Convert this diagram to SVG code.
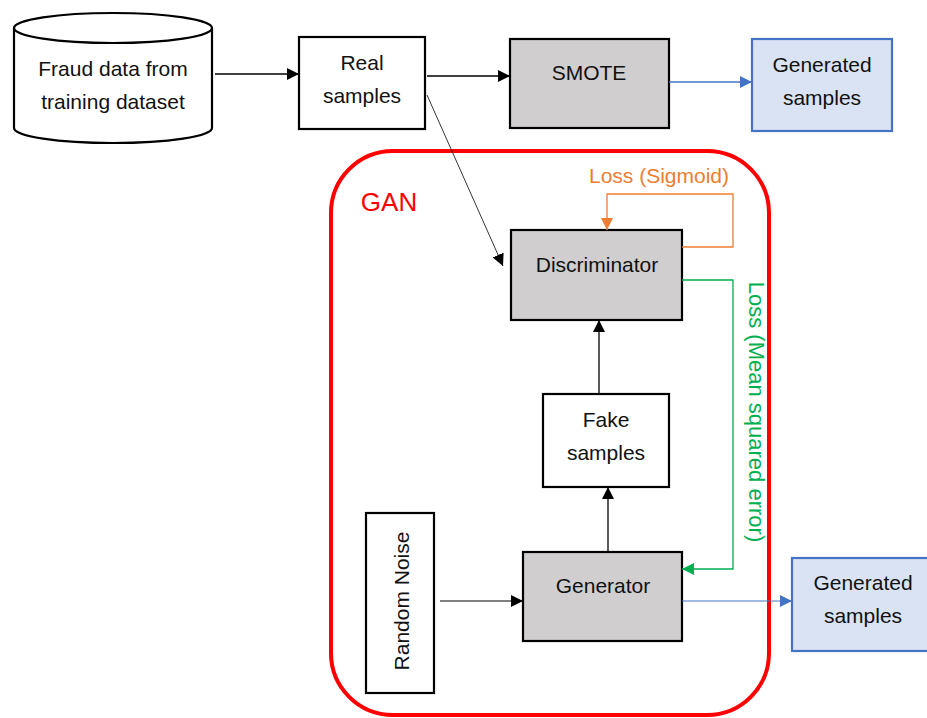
<svg xmlns="http://www.w3.org/2000/svg" width="927" height="718" viewBox="0 0 927 718">
<style>
text{font-family:"Liberation Sans",Arial,sans-serif;font-size:21px;fill:#111;text-anchor:middle}
.box{fill:#fff;stroke:#000;stroke-width:2.2}
.gray{fill:#d0cece;stroke:#000;stroke-width:2.2}
.blue{fill:#dae3f3;stroke:#4472c4;stroke-width:2.2}
.c{fill:none;stroke:#000;stroke-width:1.3}
</style>
<defs>
<marker id="ak" markerWidth="12" markerHeight="12" refX="12" refY="6" orient="auto" markerUnits="userSpaceOnUse"><path d="M0,0 L12,6 L0,12 Z" fill="#000"/></marker>
<marker id="ab" markerWidth="12" markerHeight="12" refX="12" refY="6" orient="auto" markerUnits="userSpaceOnUse"><path d="M0,0 L12,6 L0,12 Z" fill="#4472c4"/></marker>
<marker id="ao" markerWidth="12" markerHeight="12" refX="12" refY="6" orient="auto" markerUnits="userSpaceOnUse"><path d="M0,0 L12,6 L0,12 Z" fill="#ed7d31"/></marker>
<marker id="ag" markerWidth="12" markerHeight="12" refX="12" refY="6" orient="auto" markerUnits="userSpaceOnUse"><path d="M0,0 L12,6 L0,12 Z" fill="#00b050"/></marker>
</defs>

<g id="gan">
<rect x="331" y="151" width="438" height="564" rx="62" ry="62" fill="none" stroke="#ff0000" stroke-width="4"/>
<text x="389" y="211" style="fill:#ff0000;font-size:26px">GAN</text>
</g>

<g id="fraud">
<path d="M14,28 L14,128 A99,15 0 0 0 212,128 L212,28" fill="#fff" stroke="#000" stroke-width="2.2"/>
<ellipse cx="113" cy="28" rx="99" ry="15" fill="#fff" stroke="#000" stroke-width="2.2"/>
<text x="113" y="76">Fraud data from</text>
<text x="113" y="109">training dataset</text>
</g>

<g id="real">
<rect class="box" x="299" y="37" width="126" height="92"/>
<text x="362" y="70">Real</text>
<text x="362" y="103">samples</text>
</g>

<g id="smote">
<rect class="gray" x="510" y="39" width="159" height="89"/>
<text x="589" y="80">SMOTE</text>
</g>

<g id="gen1">
<rect class="blue" x="752" y="39" width="140" height="92"/>
<text x="822" y="72">Generated</text>
<text x="822" y="105">samples</text>
</g>

<g id="disc">
<rect class="gray" x="511" y="230" width="171" height="90"/>
<text x="597" y="272">Discriminator</text>
</g>

<g id="fake">
<rect class="box" x="543" y="394" width="126" height="93"/>
<text x="606" y="427">Fake</text>
<text x="606" y="460">samples</text>
</g>

<g id="generator">
<rect class="gray" x="523" y="552" width="159" height="89"/>
<text x="603" y="593">Generator</text>
</g>

<g id="noise">
<rect class="box" x="366" y="513" width="68" height="180"/>
<text transform="translate(409,601) rotate(-90)" x="0" y="0">Random Noise</text>
</g>

<g id="gen2">
<rect class="blue" x="792" y="558" width="145" height="93"/>
<text x="863" y="590">Generated</text>
<text x="863" y="623">samples</text>
</g>

<g id="connectors">
<line class="c" x1="215" y1="74" x2="299" y2="74" marker-end="url(#ak)"/>
<line class="c" x1="427" y1="76" x2="510" y2="76" marker-end="url(#ak)"/>
<line x1="669" y1="82" x2="752" y2="82" stroke="#4472c4" stroke-width="1.3" marker-end="url(#ab)"/>
<line x1="427" y1="95" x2="503" y2="266" stroke="#000" stroke-width="0.8" marker-end="url(#ak)"/>
<polyline points="682,247 733,247 733,194 607,194 607,230" fill="none" stroke="#ed7d31" stroke-width="1.3" marker-end="url(#ao)"/>
<text x="659" y="183" style="fill:#ed7d31">Loss (Sigmoid)</text>
<polyline points="682,280 733,280 733,569 682,569" fill="none" stroke="#00b050" stroke-width="1.3" marker-end="url(#ag)"/>
<text transform="translate(749,412) rotate(90)" x="0" y="0" style="fill:#00b050;font-size:22px">Loss (Mean squared error)</text>
<line class="c" x1="599" y1="394" x2="599" y2="320" marker-end="url(#ak)"/>
<line class="c" x1="608" y1="552" x2="608" y2="487" marker-end="url(#ak)"/>
<line x1="440" y1="601" x2="523" y2="601" stroke="#000" stroke-width="1" marker-end="url(#ak)"/>
<line x1="682" y1="601" x2="792" y2="601" stroke="#4472c4" stroke-width="1" marker-end="url(#ab)"/>
</g>
</svg>
